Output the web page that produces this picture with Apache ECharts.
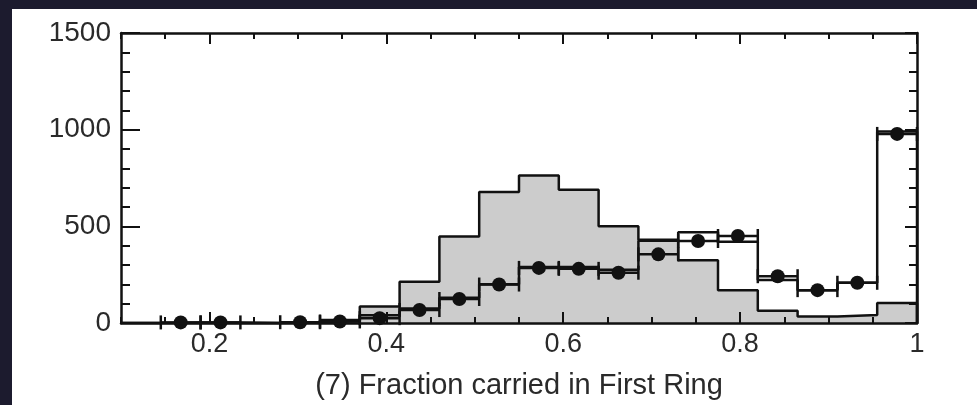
<!DOCTYPE html>
<html>
<head>
<meta charset="utf-8">
<title>Fraction carried in First Ring</title>
<script src="https://cdn.jsdelivr.net/npm/echarts@6/dist/echarts.min.js"></script>
<style>
  html, body { margin: 0; padding: 0; background: #1c1b2e; }
  #panel { position: absolute; left: 12px; top: 9px; right: 0; bottom: 0; background: #ffffff; }
  #main { position: absolute; left: 0; top: 0; width: 977px; height: 405px; }
</style>
</head>
<body>
<div id="panel"></div>
<div id="main"></div>
<script>
// bin edges of the histogram (20 bins from 0.1 to 1.0)
var binEdges = [0.1, 0.145, 0.19, 0.235, 0.28, 0.325, 0.37, 0.415, 0.46, 0.505, 0.55,
                0.595, 0.64, 0.685, 0.73, 0.775, 0.82, 0.865, 0.91, 0.955, 1.0];
// grey filled histogram
var greyHist = [0, 0, 0, 0, 3, 15, 85, 213, 448, 677, 763, 689, 500, 430, 325, 170, 63, 33, 41, 103];
// open (white) histogram
var openHist = [0, 3, 3, 0, 4, 10, 40, 75, 130, 200, 290, 290, 275, 425, 469, 420, 222, 170, 208, 990];
// data points (null = empty bin)
var dataPts = [null, 3, 3, null, 4, 8, 25, 67, 124, 199, 285, 280, 260, 355, 424, 450, 242, 170, 208, 978];
var xTickLabels = ['0.2', '0.4', '0.6', '0.8', '1'];
var yTickLabels = ['0', '500', '1000', '1500'];

var myChart = echarts.init(document.getElementById('main'));

function stepPoints(vals) {
    var pts = [[binEdges[0], 0]];
    for (var i = 0; i < vals.length; i++) {
        pts.push([binEdges[i], vals[i]]);
        pts.push([binEdges[i + 1], vals[i]]);
    }
    pts.push([binEdges[vals.length], 0]);
    return pts;
}

var errData = [];
var dotData = [];
for (var i = 0; i < dataPts.length; i++) {
    if (dataPts[i] === null) continue;
    var c = (binEdges[i] + binEdges[i + 1]) / 2;
    errData.push([binEdges[i], binEdges[i + 1], dataPts[i], Math.sqrt(dataPts[i])]);
    dotData.push([c, dataPts[i]]);
}

var fontFam = '"Liberation Sans", Arial, sans-serif';
var black = '#111111';
var textCol = '#2a2a2a';
var plotLeft = 121, plotRight = 60, plotTop = 33, plotBottom = 82;
var plotWidth = 977 - plotLeft - plotRight;

// 使用 0.05 的小刻度和 0.2 的大刻度
function xAxisCfg(grid, pos, min, interval, len, extra) {
    var a = {
        type: 'value', gridIndex: grid, position: pos, min: min, max: 1.0, interval: interval, z: 10,
        axisLine: {onZero: false, lineStyle: {color: black, width: 2.5}},
        axisTick: {inside: true, length: len, lineStyle: {color: black, width: 2}},
        axisLabel: {show: false}, splitLine: {show: false}
    };
    for (var k in extra) a[k] = extra[k];
    return a;
}

option = {
    animation: false,
    grid: [
        {left: plotLeft, right: plotRight, top: plotTop, bottom: plotBottom},
        // second grid from 0.2 to 1.0 for the labelled major ticks
        {left: plotLeft + plotWidth / 9, right: plotRight, top: plotTop, bottom: plotBottom}
    ],
    xAxis: [
        xAxisCfg(0, 'bottom', 0.1, 0.05, 6, {
            name: '(7) Fraction carried in First Ring', nameLocation: 'middle', nameGap: 48,
            nameTextStyle: {fontFamily: fontFam, fontSize: 29, color: textCol}
        }),
        xAxisCfg(0, 'top', 0.1, 0.05, 6, {}),
        xAxisCfg(1, 'bottom', 0.2, 0.2, 11, {
            axisLine: {show: false, onZero: false},
            axisLabel: {
                fontFamily: fontFam, fontSize: 27, color: textCol, margin: 8,
                formatter: function (v) { return xTickLabels[Math.round((v - 0.2) / 0.2)]; }
            }
        }),
        xAxisCfg(1, 'top', 0.2, 0.2, 11, {axisLine: {show: false, onZero: false}})
    ],
    yAxis: [
        {
            type: 'value', gridIndex: 0, position: 'left', min: 0, max: 1500, interval: 500, z: 10,
            axisLine: {show: true, onZero: false, lineStyle: {color: black, width: 2.5}},
            axisTick: {show: true, inside: true, length: 19, lineStyle: {color: black, width: 2}},
            minorTick: {show: true, splitNumber: 5, length: 9, lineStyle: {color: black, width: 2}},
            axisLabel: {
                fontFamily: fontFam, fontSize: 28, color: textCol, margin: 10,
                formatter: function (v) { return yTickLabels[Math.round(v / 500)]; }
            },
            splitLine: {show: false}
        },
        {
            type: 'value', gridIndex: 0, position: 'right', min: 0, max: 1500, interval: 500, z: 10,
            axisLine: {show: true, onZero: false, lineStyle: {color: black, width: 2.5}},
            axisTick: {show: true, inside: true, length: 12, lineStyle: {color: black, width: 2}},
            minorTick: {show: true, splitNumber: 5, length: 8, lineStyle: {color: black, width: 2}},
            axisLabel: {show: false}, splitLine: {show: false}
        },
        {type: 'value', gridIndex: 1, min: 0, max: 1500, show: false}
    ],
    series: [
        {
            name: 'grey', type: 'line', xAxisIndex: 0, yAxisIndex: 0, z: 1,
            data: stepPoints(greyHist), symbol: 'none',
            lineStyle: {color: black, width: 2.5},
            areaStyle: {color: '#cccccc', opacity: 1}
        },
        {
            name: 'open', type: 'line', xAxisIndex: 0, yAxisIndex: 0, z: 2,
            data: stepPoints(openHist), symbol: 'none',
            lineStyle: {color: black, width: 2.5}
        },
        {
            name: 'errors', type: 'custom', xAxisIndex: 0, yAxisIndex: 0, z: 3,
            data: errData,
            encode: {x: [0, 1], y: 2},
            renderItem: function (params, api) {
                var p0 = api.coord([api.value(0), api.value(2)]);
                var p1 = api.coord([api.value(1), api.value(2)]);
                var lo = api.coord([api.value(0), api.value(2) - api.value(3)]);
                var hi = api.coord([api.value(0), api.value(2) + api.value(3)]);
                var cx = (p0[0] + p1[0]) / 2;
                var st = {stroke: black, lineWidth: 2.5};
                var cap = 7;
                return {
                    type: 'group',
                    children: [
                        {type: 'line', shape: {x1: p0[0], y1: p0[1], x2: p1[0], y2: p1[1]}, style: st},
                        {type: 'line', shape: {x1: p0[0], y1: p0[1] - cap, x2: p0[0], y2: p0[1] + cap}, style: st},
                        {type: 'line', shape: {x1: p1[0], y1: p1[1] - cap, x2: p1[0], y2: p1[1] + cap}, style: st},
                        {type: 'line', shape: {x1: cx, y1: lo[1], x2: cx, y2: hi[1]}, style: st}
                    ]
                };
            }
        },
        {
            name: 'data', type: 'scatter', xAxisIndex: 0, yAxisIndex: 0, z: 4,
            data: dotData, symbol: 'circle', symbolSize: 14,
            itemStyle: {color: black, opacity: 1}
        }
    ]
};

myChart.setOption(option);
</script>
</body>
</html>
